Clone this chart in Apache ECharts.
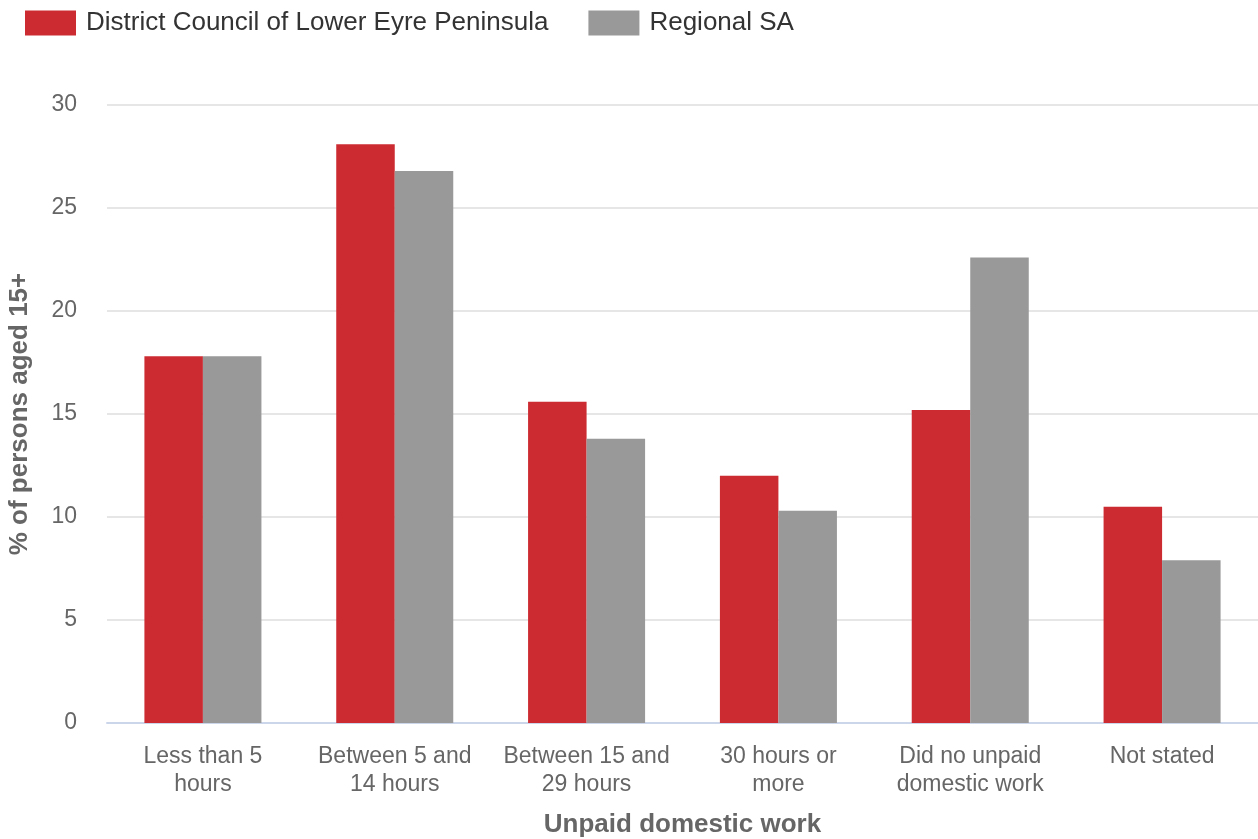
<!DOCTYPE html>
<html>
<head>
<meta charset="utf-8">
<script src="https://cdn.jsdelivr.net/npm/echarts@6/dist/echarts.min.js"></script>
<style>
  html, body { margin: 0; padding: 0; background: #fff; }
  #chart { width: 1258px; height: 839px; }
</style>
</head>
<body>
<div id="chart"></div>
<script>
// Unpaid domestic work, % of persons aged 15+
const categories = [
  'Less than 5\nhours',
  'Between 5 and\n14 hours',
  'Between 15 and\n29 hours',
  '30 hours or\nmore',
  'Did no unpaid\ndomestic work',
  'Not stated'
];
const councilName = 'District Council of Lower Eyre Peninsula';
const regionName = 'Regional SA';
const councilValues = [17.8, 28.1, 15.6, 12.0, 15.2, 10.5];
const regionValues = [17.8, 26.8, 13.8, 10.3, 22.6, 7.9];
const yTicks = [0, 5, 10, 15, 20, 25, 30];

const font = '"Liberation Sans", Arial, sans-serif';
const chart = echarts.init(document.getElementById('chart'), null, { renderer: 'canvas' });

chart.setOption({
  animation: false,
  color: ['#cc2b31', '#999999'],
  legend: {
    left: 25,
    top: 10,
    padding: 0,
    itemWidth: 51,
    itemHeight: 25,
    itemGap: 40,
    icon: 'rect',
    textStyle: { fontFamily: font, fontSize: 26, color: '#333333', padding: [0, 0, 0, 5] },
    data: [councilName, regionName]
  },
  grid: { left: 107, right: 0, top: 105, bottom: 116, containLabel: false, outerBoundsMode: 'none' },
  xAxis: {
    type: 'category',
    data: categories,
    name: 'Unpaid domestic work',
    nameLocation: 'middle',
    nameGap: 89,
    nameTextStyle: { fontFamily: font, fontSize: 26, fontWeight: 'bold', color: '#666666' },
    axisLine: { lineStyle: { color: '#ccd6eb', width: 2 } },
    axisTick: { alignWithLabel: true, length: 20, lineStyle: { color: '#ccd6eb', width: 2 } },
    axisLabel: { fontFamily: font, fontSize: 23, color: '#666666', lineHeight: 28, margin: 20, interval: 0 }
  },
  yAxis: {
    type: 'value',
    min: yTicks[0],
    max: yTicks[yTicks.length - 1],
    interval: 5,
    name: '% of persons aged 15+',
    nameLocation: 'middle',
    nameGap: 74,
    nameTextStyle: { fontFamily: font, fontSize: 26, fontWeight: 'bold', color: '#666666' },
    axisLine: { show: false },
    axisTick: { show: false },
    axisLabel: { fontFamily: font, fontSize: 23, color: '#666666', margin: 30 },
    splitLine: { lineStyle: { color: '#e6e6e6', width: 2 } }
  },
  series: [
    {
      name: councilName,
      type: 'bar',
      data: councilValues,
      barGap: '0%',
      barCategoryGap: '39%'
    },
    {
      name: regionName,
      type: 'bar',
      data: regionValues,
      barGap: '0%',
      barCategoryGap: '39%'
    }
  ]
});
</script>
</body>
</html>
